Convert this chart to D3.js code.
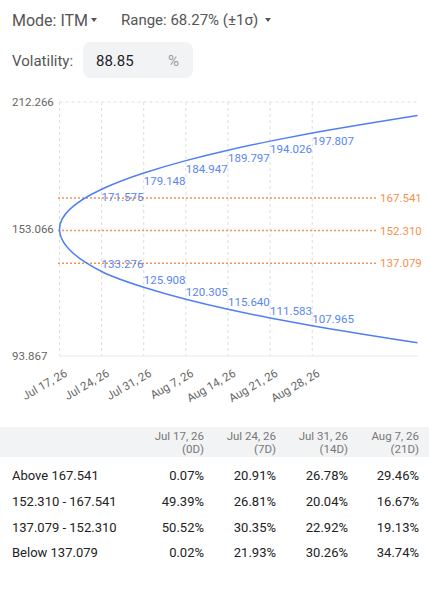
<!DOCTYPE html>
<html>
<head>
<meta charset="utf-8">
<script src="https://cdn.jsdelivr.net/npm/d3@7"></script>
<style>
  html, body { margin: 0; padding: 0; background: #fff; }
  svg { display: block; font-family: Roboto, "Noto Sans", sans-serif; }
</style>
</head>
<body>
<div id="chart"></div>
<script>
// chart data
var startDate = new Date(2026, 6, 17);
var dayOffsets = [0, 7, 14, 21, 28, 35, 42, 59.5];
var upperBound = [153.066, 171.575, 179.148, 184.947, 189.797, 194.026, 197.807, 206.0];
var lowerBound = [153.066, 133.276, 125.908, 120.305, 115.640, 111.583, 107.965, 100.0];
var labeledIdx = [1, 2, 3, 4, 5, 6];
var yTicks = [93.867, 153.066, 212.266];
var levels = [167.541, 152.310, 137.079];
var tickDays = [0, 7, 14, 21, 28, 35, 42];

// table data
var colHeads = [["Jul 17, 26", "(0D)"], ["Jul 24, 26", "(7D)"], ["Jul 31, 26", "(14D)"], ["Aug 7, 26", "(21D)"]];
var rowHeads = ["Above 167.541", "152.310 - 167.541", "137.079 - 152.310", "Below 137.079"];
var cellValues = [
	[0.07, 20.91, 26.78, 29.46],
	[49.39, 26.81, 20.04, 16.67],
	[50.52, 30.35, 22.92, 19.13],
	[0.02, 21.93, 30.26, 34.74]
];

var W = 429, H = 589;
var blue = '#4f7ff3', blueText = '#5a86f2', orange = '#f6924c', grid = '#dedede', gray = '#666';

var dayToDate = function(d) { return new Date(+startDate + d * 864e5); };

var svg = d3.select('#chart').append('svg')
	.attr('width', W)
	.attr('height', H);

// header controls
var head = svg.append('g').style('font-size', '15px').attr('fill', '#555');
head.append('text').attr('x', 12).attr('y', 20).attr('dy', '0.35em').style('font-size', '16px').text('Mode: ITM');
head.append('path').attr('d', 'M91 18 L97 18 L94 22 Z');
head.append('text').attr('x', 121).attr('y', 20).attr('dy', '0.35em').text('Range: 68.27% (±1σ)');
head.append('path').attr('d', 'M265 18 L271 18 L268 22 Z');
head.append('text').attr('x', 12).attr('y', 61).attr('dy', '0.35em').text('Volatility:');
head.append('rect').attr('x', 83).attr('y', 42).attr('width', 110).attr('height', 36).attr('rx', 8).attr('fill', '#f2f3f5');
head.append('text').attr('x', 96).attr('y', 61).attr('dy', '0.35em').attr('fill', '#1f1f1f').text('88.85');
head.append('text').attr('x', 168).attr('y', 61).attr('dy', '0.35em').attr('fill', '#9a9a9a').text('%');

// scales
var x = d3.scaleTime()
	.domain([startDate, dayToDate(59.5)])
	.range([59.5, 417.5]);
var y = d3.scaleLinear()
	.domain([93.867, 212.266])
	.range([356, 102]);

var plot = svg.append('g');

// vertical gridlines
plot.selectAll('line.vgrid')
	.data(tickDays)
	.enter().append('line')
	.classed('vgrid', true)
	.attr('x1', function(d) { return x(dayToDate(d)); })
	.attr('x2', function(d) { return x(dayToDate(d)); })
	.attr('y1', y(212.266))
	.attr('y2', y(93.867))
	.attr('stroke', grid)
	.attr('stroke-dasharray', '3,3');

// top gridline + bottom axis line
plot.append('line')
	.attr('x1', x.range()[0]).attr('x2', x.range()[1])
	.attr('y1', y(212.266)).attr('y2', y(212.266))
	.attr('stroke', grid).attr('stroke-dasharray', '3,3');
plot.append('line')
	.attr('x1', x.range()[0]).attr('x2', x.range()[1])
	.attr('y1', y(93.867)).attr('y2', y(93.867))
	.attr('stroke', '#e8e8e8');

// y labels
svg.selectAll('text.ylab')
	.data(yTicks)
	.enter().append('text')
	.classed('ylab', true)
	.attr('x', 12)
	.attr('y', function(d) { return y(d); })
	.attr('dy', '0.35em')
	.attr('fill', gray)
	.style('font-size', '11.5px')
	.text(function(d) { return d.toFixed(3); });

// x axis
var xAxis = d3.axisBottom(x)
	.tickValues(tickDays.map(dayToDate))
	.tickSize(0)
	.tickFormat(d3.timeFormat('%b %-d, %y'));
var axisG = svg.append('g')
	.attr('transform', 'translate(0,' + y(93.867) + ')')
	.call(xAxis);
axisG.select('.domain').remove();
axisG.selectAll('text')
	.attr('y', 0)
	.attr('dy', '0.35em')
	.attr('fill', gray)
	.style('font-size', '11.5px')
	.style('font-family', 'Roboto, "Noto Sans", sans-serif')
	.attr('text-anchor', 'end')
	.attr('transform', 'translate(6,16) rotate(-30)');

// level lines
plot.selectAll('line.level')
	.data(levels)
	.enter().append('line')
	.classed('level', true)
	.attr('x1', 58)
	.attr('x2', 376)
	.attr('y1', function(d) { return y(d); })
	.attr('y2', function(d) { return y(d); })
	.attr('stroke', orange)
	.attr('stroke-width', 1.5)
	.attr('stroke-dasharray', '2,2');
svg.selectAll('text.level')
	.data(levels)
	.enter().append('text')
	.classed('level', true)
	.attr('x', 380)
	.attr('y', function(d) { return y(d); })
	.attr('dy', '0.35em')
	.attr('fill', orange)
	.style('font-size', '11.5px')
	.text(function(d) { return d.toFixed(3); });

// cone curve: upper branch reversed, then lower branch (y runs one way only)
var conePts = [];
for (var i = dayOffsets.length - 1; i > 0; i--) conePts.push([dayOffsets[i], upperBound[i]]);
for (var j = 0; j < dayOffsets.length; j++) conePts.push([dayOffsets[j], lowerBound[j]]);

var line = d3.line()
	.x(function(d) { return x(dayToDate(d[0])); })
	.y(function(d) { return y(d[1]); })
	.curve(d3.curveMonotoneY);

plot.append('path')
	.datum(conePts)
	.attr('d', line)
	.attr('fill', 'none')
	.attr('stroke', blue)
	.attr('stroke-width', 1.5);

// point labels
svg.selectAll('text.up')
	.data(labeledIdx)
	.enter().append('text')
	.classed('up', true)
	.attr('x', function(i) { return x(dayToDate(dayOffsets[i])); })
	.attr('y', function(i) { return y(upperBound[i]) + 8; })
	.attr('dy', '0.35em')
	.attr('fill', blueText)
	.style('font-size', '11.5px')
	.text(function(i) { return upperBound[i].toFixed(3); });
svg.selectAll('text.lo')
	.data(labeledIdx)
	.enter().append('text')
	.classed('lo', true)
	.attr('x', function(i) { return x(dayToDate(dayOffsets[i])); })
	.attr('y', function(i) { return y(lowerBound[i]) - 7; })
	.attr('dy', '0.35em')
	.attr('fill', blueText)
	.style('font-size', '11.5px')
	.text(function(i) { return lowerBound[i].toFixed(3); });

// table
var colRight = [204, 276, 348, 419];
var table = svg.append('g');
table.append('rect')
	.attr('x', 0).attr('y', 427).attr('width', W).attr('height', 30)
	.attr('fill', '#f2f3f5');
colHeads.forEach(function(c, k) {
	c.forEach(function(s, li) {
		table.append('text')
			.attr('x', colRight[k])
			.attr('y', 436 + li * 13)
			.attr('dy', '0.35em')
			.attr('text-anchor', 'end')
			.attr('fill', '#777')
			.style('font-size', '11.5px')
			.text(s);
	});
});
var rowY = [475, 501, 527, 552];
rowHeads.forEach(function(r, ri) {
	table.append('text')
		.attr('x', 12).attr('y', rowY[ri]).attr('dy', '0.35em')
		.attr('fill', '#222')
		.style('font-size', '13px')
		.text(r);
	cellValues[ri].forEach(function(v, ci) {
		table.append('text')
			.attr('x', colRight[ci]).attr('y', rowY[ri]).attr('dy', '0.35em')
			.attr('text-anchor', 'end')
			.attr('fill', '#222')
			.style('font-size', '13px')
			.text(v.toFixed(2) + '%');
	});
});
</script>
</body>
</html>
